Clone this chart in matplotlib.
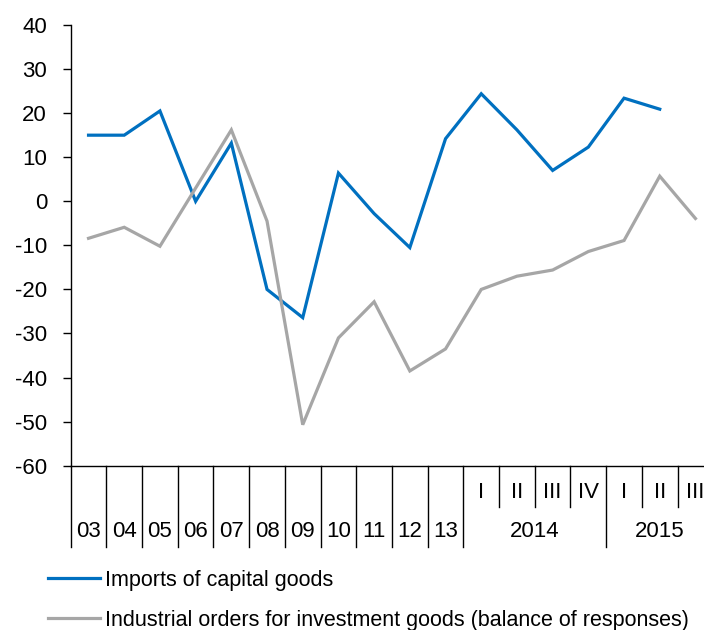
import matplotlib
matplotlib.use('Agg')
import matplotlib.pyplot as plt
import matplotlib.transforms as mtransforms

plt.rcParams['font.family'] = ['Liberation Sans', 'DejaVu Sans']
plt.rcParams['axes.unicode_minus'] = False

categories = ['03', '04', '05', '06', '07', '08', '09', '10', '11', '12', '13',
              'I', 'II', 'III', 'IV', 'I', 'II', 'III']
year_groups = [('2014', 11, 15), ('2015', 15, 18)]

imports = [15, 15, 20.5, 0, 13.2, -20, -26.4, 6.4, -2.8, -10.5, 14.2,
           24.4, 16.2, 7.0, 12.3, 23.4, 20.9]
orders = [-8.4, -5.9, -10.2, 3, 16.2, -4.5, -50.7, -31, -22.8, -38.5, -33.5,
          -20, -17, -15.6, -11.4, -8.9, 5.7, -3.9]

blue = '#0070C0'
grey = '#A6A6A6'
fs = 16

fig = plt.figure(figsize=(7.04, 6.3), dpi=100)
ax = fig.add_axes([0.1004, 0.2608, 0.9128, 0.6995])

x_imp = [i + 0.5 for i in range(len(imports))]
x_ord = [i + 0.5 for i in range(len(orders))]
ax.plot(x_imp, imports, color=blue, lw=2.3, label='Imports of capital goods',
        solid_joinstyle='miter')
ax.plot(x_ord, orders, color=grey, lw=2.3,
        label='Industrial orders for investment goods (balance of responses)',
        solid_joinstyle='miter')

ax.set_xlim(0, len(categories))
ax.set_ylim(-60, 40)
ax.set_yticks(range(-60, 41, 10))
ax.tick_params(axis='y', direction='out', length=6, width=1, labelsize=fs, pad=11)
ax.set_xticks([])
for s in ['top', 'right']:
    ax.spines[s].set_visible(False)
ax.spines['left'].set_linewidth(1)
ax.spines['bottom'].set_linewidth(1)

trans = mtransforms.blended_transform_factory(ax.transData, ax.transAxes)
long_bottom = -0.185
short_bottom = -0.093

# separators and category labels
for i, lab in enumerate(categories):
    if i < 11:
        ax.plot([i, i], [0, long_bottom], color='black', lw=1, transform=trans, clip_on=False)
        ax.text(i + 0.5, -0.149, lab, transform=trans, ha='center', va='center', fontsize=fs)
    else:
        is_start = any(i == g[1] for g in year_groups)
        bottom = long_bottom if is_start else short_bottom
        ax.plot([i, i], [0, bottom], color='black', lw=1, transform=trans, clip_on=False)
        ax.text(i + 0.5, -0.0617, lab, transform=trans, ha='center', va='center', fontsize=fs)
for name, start, end in year_groups:
    ax.text((start + end) / 2, -0.149, name, transform=trans, ha='center', va='center', fontsize=fs)

fig.legend(loc='upper left', bbox_to_anchor=(48 / 704, 1 - 570 / 630), frameon=False,
           fontsize=15.5, handlelength=2.42, handletextpad=0.23, labelspacing=0.87,
           borderpad=0, borderaxespad=0)

fig.savefig('out.png', dpi=100)
